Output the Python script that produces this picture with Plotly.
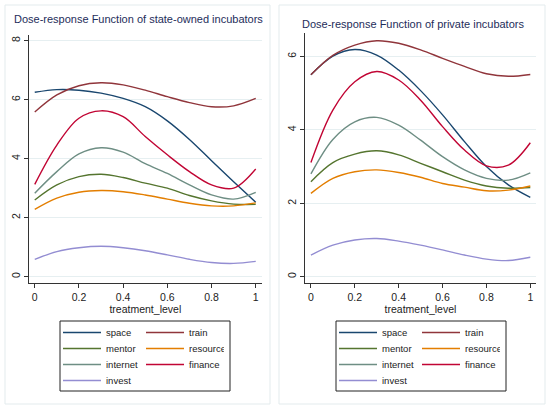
import plotly.graph_objects as go

# treatment level grid
treatment = [0, 0.1, 0.2, 0.3, 0.4, 0.5, 0.6, 0.7, 0.8, 0.9, 1.0]

# state-owned incubators
space_state = [6.25, 6.34, 6.32, 6.22, 6.04, 5.76, 5.28, 4.65, 3.93, 3.22, 2.52]
train_state = [5.58, 6.16, 6.47, 6.57, 6.5, 6.32, 6.1, 5.9, 5.76, 5.79, 6.04]
mentor_state = [2.6, 3.11, 3.39, 3.47, 3.36, 3.17, 3.0, 2.75, 2.57, 2.46, 2.45]
resource_state = [2.28, 2.66, 2.86, 2.92, 2.88, 2.77, 2.63, 2.49, 2.4, 2.4, 2.5]
internet_state = [2.83, 3.56, 4.16, 4.37, 4.22, 3.83, 3.5, 3.11, 2.77, 2.63, 2.86]
finance_state = [3.13, 4.46, 5.37, 5.62, 5.42, 4.75, 4.13, 3.56, 3.11, 3.0, 3.65]
invest_state = [0.59, 0.85, 0.98, 1.03, 0.98, 0.88, 0.74, 0.59, 0.48, 0.45, 0.52]

# private incubators
space_private = [5.5, 6.01, 6.19, 6.04, 5.63, 5.07, 4.41, 3.68, 3.0, 2.5, 2.16]
train_private = [5.5, 6.03, 6.31, 6.43, 6.36, 6.18, 5.95, 5.73, 5.53, 5.46, 5.51]
mentor_private = [2.59, 3.11, 3.34, 3.43, 3.32, 3.09, 2.86, 2.63, 2.47, 2.41, 2.43]
resource_private = [2.27, 2.68, 2.86, 2.91, 2.84, 2.71, 2.54, 2.44, 2.34, 2.36, 2.47]
internet_private = [2.8, 3.74, 4.22, 4.34, 4.13, 3.72, 3.27, 2.91, 2.68, 2.63, 2.83]
finance_private = [3.11, 4.54, 5.31, 5.59, 5.36, 4.81, 4.09, 3.45, 3.02, 3.04, 3.65]
invest_private = [0.59, 0.86, 1.0, 1.04, 0.97, 0.86, 0.73, 0.59, 0.48, 0.44, 0.53]

names = ["space", "train", "mentor", "resource", "internet", "finance", "invest"]
colors = ["#1a476f", "#90353b", "#55752f", "#e37e00", "#6e8e84", "#c10534", "#938dd2"]
titles = ["Dose-response Function of state-owned incubators",
          "Dose-response Function of private incubators"]

W, H = 550, 411
FONT = "Liberation Sans, Arial, sans-serif"
ROW_Y = [332.5, 348.5, 364.5, 380.5]

def px(x):
    return x / W

def py(y):
    return 1 - y / H

panels = [
    dict(series=[space_state, train_state, mentor_state, resource_state,
                 internet_state, finance_state, invest_state],
         xdom=[px(29), px(261.7)], ydom=[py(283.3), py(35)],
         xrange=[-0.026, 1.027], yrange=[-0.224, 8.19], ytick=[0, 2, 4, 6, 8],
         frame=(5, 270), leg_x=60, title_y=19),
    dict(series=[space_private, train_private, mentor_private, resource_private,
                 internet_private, finance_private, invest_private],
         xdom=[px(305), px(536)], ydom=[py(283.3), py(33)],
         xrange=[-0.027, 1.026], yrange=[-0.18, 6.64], ytick=[0, 2, 4, 6],
         frame=(279, 545), leg_x=336, title_y=24),
]

fig = go.Figure()
layout = dict(width=W, height=H, margin=dict(l=0, r=0, t=0, b=0, autoexpand=False),
              paper_bgcolor="white", plot_bgcolor="white",
              font=dict(family=FONT, color="#222"), shapes=[], annotations=[])

for i, p in enumerate(panels):
    ax = "" if i == 0 else str(i + 1)
    # one horizontal legend per legend row, two entries per row
    leg_ids = []
    for r in range(4):
        n = i * 4 + r + 1
        leg_ids.append("legend" if n == 1 else "legend%d" % n)
    for k, (name, col) in enumerate(zip(names, colors)):
        fig.add_trace(go.Scatter(
            x=treatment, y=p["series"][k], name=name, mode="lines",
            line=dict(color=col, width=1.4, shape="spline", smoothing=1.0),
            xaxis="x" + ax, yaxis="y" + ax,
            legend=leg_ids[k // 2]))

    layout["xaxis" + ax] = dict(
        domain=p["xdom"], range=p["xrange"], anchor="y" + ax,
        tickmode="array", tickvals=[0, 0.2, 0.4, 0.6, 0.8, 1],
        ticktext=["0", "0.2", "0.4", "0.6", "0.8", "1"],
        ticks="outside", ticklen=4, tickcolor="#333", showgrid=False, zeroline=False,
        showline=True, linecolor="#333", linewidth=1, automargin=False,
        tickfont=dict(size=10.5, color="#222"),
        title=dict(text="treatment_level", font=dict(size=10.5, color="#222"), standoff=1))
    layout["yaxis" + ax] = dict(
        domain=p["ydom"], range=p["yrange"], anchor="x" + ax,
        tickmode="array", tickvals=p["ytick"], tickangle=-90,
        ticks="outside", ticklen=4, tickcolor="#333",
        showgrid=True, gridcolor="#e6eff1", gridwidth=1, zeroline=False,
        showline=True, linecolor="#333", linewidth=1, automargin=False,
        tickfont=dict(size=10.5, color="#222"))

    x0, x1 = p["frame"]
    layout["shapes"].append(dict(type="rect", xref="paper", yref="paper",
                                 x0=px(x0), x1=px(x1), y0=py(404), y1=py(5),
                                 line=dict(color="#e3ebed", width=1), layer="below"))
    lx = p["leg_x"]
    layout["shapes"].append(dict(type="rect", xref="paper", yref="paper",
                                 x0=px(lx), x1=px(lx + 170), y0=py(391), y1=py(321),
                                 line=dict(color="#222", width=1)))
    layout["annotations"].append(dict(
        text=titles[i], xref="paper", yref="paper", x=(px(x0) + px(x1)) / 2 + 0.002,
        y=py(p["title_y"]), xanchor="center", yanchor="middle",
        showarrow=False, font=dict(size=11, color="#1e2d5a")))

    for r, lg in enumerate(leg_ids):
        layout[lg] = dict(x=px(lx - 2), y=py(ROW_Y[r]), xanchor="left", yanchor="middle",
                          orientation="h", entrywidth=30, entrywidthmode="pixels",
                          itemwidth=38,
                          bgcolor="rgba(0,0,0,0)", borderwidth=0,
                          font=dict(size=9.5, color="#222"))

layout["showlegend"] = True
fig.update_layout(**layout)
fig.write_html("out.html", config={"displayModeBar": False},
               post_script="document.body.style.margin='0';")
